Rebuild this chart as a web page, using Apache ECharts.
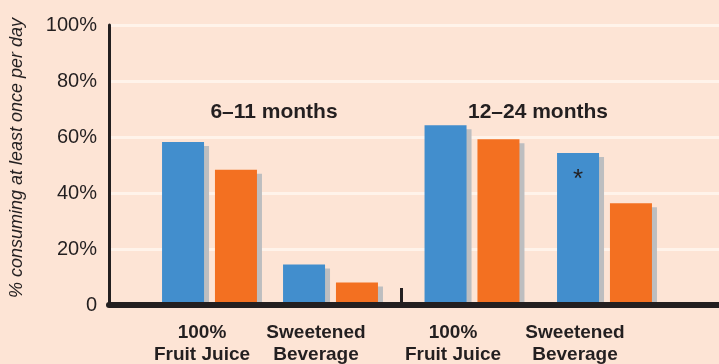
<!DOCTYPE html>
<html>
<head>
<meta charset="utf-8">
<script src="https://cdn.jsdelivr.net/npm/echarts@6/dist/echarts.min.js"></script>
<style>
  html, body { margin: 0; padding: 0; background: #fde4d5; }
  #chart { width: 719px; height: 364px; }
</style>
</head>
<body>
<div id="chart"></div>
<script>
// ---- data ----
const drinkTypes = ['100%\nFruit Juice', 'Sweetened\nBeverage'];
const ageGroups = ['6–11 months', '12–24 months'];
const infantBlue = [58, 14];
const infantOrange = [48, 7.5];
const toddlerBlue = [64, 54];
const toddlerOrange = [59, 36];
const toddlerBlueNotes = ['', '*'];
const yTickLabels = ['0', '20%', '40%', '60%', '80%', '100%'];
const yAxisTitle = '% consuming at least once per day';

// ---- styling / layout ----
const BG = '#fde4d5';
const INK = '#231f20';
const BLUE = '#428ecd';
const ORANGE = '#f37021';
const SHADOW = '#bdbec0';
const GRIDLINE = '#fff3ea';
const FONT = '"Liberation Sans", Arial, Helvetica, sans-serif';
const TOP = 25, BOTTOM = 59;
// horizontal nudge (px, to the left) of each drink label under its bars
const labelNudge = [[7.5, 14.5], [19, 29.5]];

const chart = echarts.init(document.getElementById('chart'), null, { renderer: 'canvas' });

function richFor(g) {
  const rich = {};
  drinkTypes.forEach((_, i) => {
    rich['s' + i] = {
      fontFamily: FONT, fontWeight: 'bold', fontSize: 19, lineHeight: 22,
      color: INK, padding: [0, labelNudge[g][i] * 2, 0, 0]
    };
  });
  return rich;
}

function groupAxis(g) {
  return {
    type: 'category', gridIndex: g + 1, data: drinkTypes,
    axisLine: { show: false }, axisTick: { show: false },
    axisLabel: {
      margin: 18, interval: 0,
      formatter: (value, index) => value.split('\n').map(l => '{s' + index + '|' + l + '}').join('\n'),
      rich: richFor(g)
    }
  };
}

function barSeries(g, values, color, notes) {
  return {
    type: 'bar', xAxisIndex: g + 1, yAxisIndex: g + 1,
    barWidth: 42, barGap: '26%', silent: true,
    itemStyle: { color: color, shadowColor: SHADOW, shadowBlur: 0, shadowOffsetX: 5, shadowOffsetY: 4 },
    data: values.map((v, i) => {
      const note = notes ? notes[i] : '';
      if (!note) return v;
      return {
        value: v,
        label: {
          show: true, position: 'insideTop', distance: 14, formatter: note,
          fontFamily: FONT, fontSize: 26, color: INK
        }
      };
    })
  };
}

const option = {
  backgroundColor: BG,
  animation: false,
  grid: [
    { left: 109, right: 0, top: TOP, bottom: BOTTOM },
    { left: 149, width: 242, top: TOP, bottom: BOTTOM },
    { left: 405.75, width: 265, top: TOP, bottom: BOTTOM }
  ],
  xAxis: [
    {
      type: 'value', gridIndex: 0, min: 0, max: 1, z: 10,
      axisLine: { show: true, lineStyle: { color: INK, width: 6 } },
      axisTick: { show: false }, axisLabel: { show: false }, splitLine: { show: false }
    },
    groupAxis(0),
    groupAxis(1)
  ],
  yAxis: [
    {
      type: 'value', gridIndex: 0, min: 0, max: 100, interval: 20,
      axisLine: { show: true, lineStyle: { color: INK, width: 3 } },
      axisTick: { show: false },
      axisLabel: {
        margin: 12, fontFamily: FONT, fontSize: 20, color: INK,
        formatter: v => yTickLabels[Math.round(v / 20)]
      },
      splitLine: { show: true, lineStyle: { color: GRIDLINE, width: 3 } }
    },
    { type: 'value', gridIndex: 1, min: 0, max: 100, show: false },
    { type: 'value', gridIndex: 2, min: 0, max: 100, show: false }
  ],
  series: [
    barSeries(0, infantBlue, BLUE),
    barSeries(0, infantOrange, ORANGE),
    barSeries(1, toddlerBlue, BLUE, toddlerBlueNotes),
    barSeries(1, toddlerOrange, ORANGE)
  ],
  graphic: [
    {
      type: 'text', x: 274, y: 112,
      style: { text: ageGroups[0], align: 'center', verticalAlign: 'middle',
               font: 'bold 21px ' + FONT, fill: INK }
    },
    {
      type: 'text', x: 538, y: 112,
      style: { text: ageGroups[1], align: 'center', verticalAlign: 'middle',
               font: 'bold 21px ' + FONT, fill: INK }
    },
    {
      type: 'text', x: 17, y: 158, rotation: Math.PI / 2,
      style: { text: yAxisTitle, align: 'center', verticalAlign: 'middle',
               font: 'italic 18px ' + FONT, fill: INK }
    },
    {
      type: 'rect', shape: { x: 400, y: 288, width: 3, height: 17 },
      style: { fill: INK }
    }
  ]
};

chart.setOption(option);
</script>
</body>
</html>
